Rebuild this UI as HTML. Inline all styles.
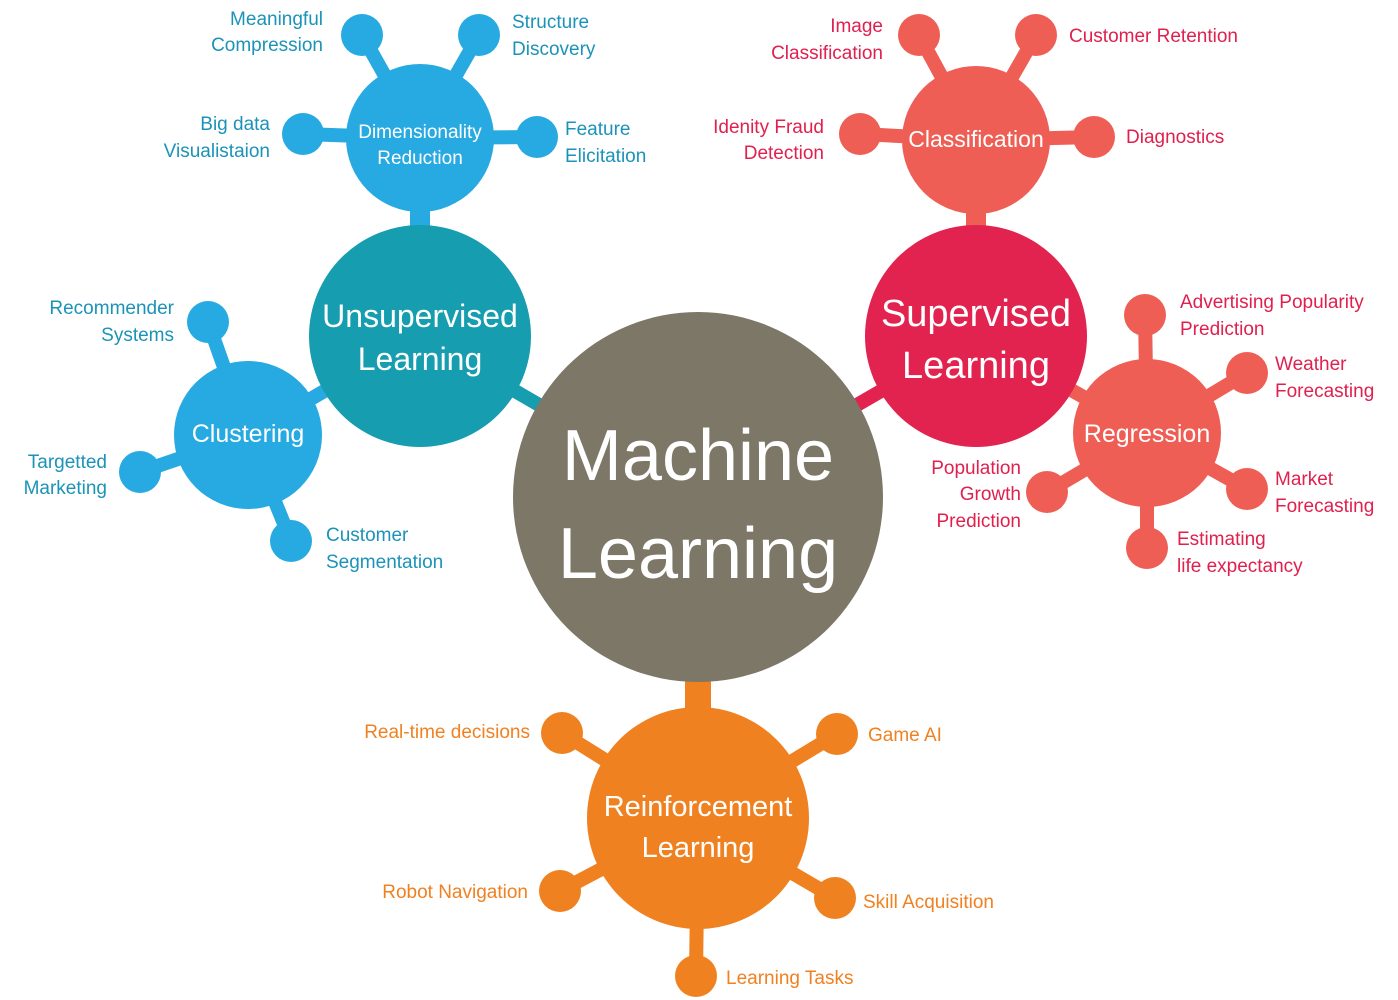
<!DOCTYPE html>
<html><head><meta charset="utf-8"><style>
html,body{margin:0;padding:0;background:#fff;}
svg{display:block;}
text{font-family:"Liberation Sans",sans-serif;}
</style></head><body>
<svg width="1398" height="1000" viewBox="0 0 1398 1000" xmlns="http://www.w3.org/2000/svg">
<g stroke-width="14" stroke-linecap="butt">
<!-- main connectors -->
<line x1="420" y1="336" x2="698" y2="497" stroke="#169daf"/>
<line x1="976" y1="336" x2="698" y2="497" stroke="#e2224f"/>
<line x1="698" y1="497" x2="698" y2="818" stroke="#f08121" stroke-width="26"/>
<line x1="420" y1="138" x2="420" y2="336" stroke="#27a9e1" stroke-width="20"/>
<line x1="248" y1="435" x2="420" y2="336" stroke="#27a9e1"/>
<line x1="976" y1="140" x2="976" y2="336" stroke="#ef5e55" stroke-width="20"/>
<line x1="1147" y1="433" x2="976" y2="336" stroke="#ef5e55"/>
<!-- dim -->
<g stroke="#27a9e1">
<line x1="420" y1="138" x2="362" y2="35"/><line x1="420" y1="138" x2="479" y2="35"/>
<line x1="420" y1="138" x2="303" y2="134"/><line x1="420" y1="138" x2="537" y2="137"/>
<line x1="248" y1="435" x2="208" y2="322"/><line x1="248" y1="435" x2="140" y2="472"/><line x1="248" y1="435" x2="291" y2="541"/>
</g>
<g stroke="#ef5e55">
<line x1="976" y1="140" x2="919" y2="35"/><line x1="976" y1="140" x2="1036" y2="35"/>
<line x1="976" y1="140" x2="860" y2="134"/><line x1="976" y1="140" x2="1094" y2="137"/>
<line x1="1147" y1="433" x2="1145" y2="315"/><line x1="1147" y1="433" x2="1247" y2="373"/>
<line x1="1147" y1="433" x2="1047" y2="492"/><line x1="1147" y1="433" x2="1247" y2="489"/>
<line x1="1147" y1="433" x2="1147" y2="548"/>
</g>
<g stroke="#f08121">
<line x1="698" y1="818" x2="562" y2="733"/><line x1="698" y1="818" x2="837" y2="734"/>
<line x1="698" y1="818" x2="560" y2="891"/><line x1="698" y1="818" x2="835" y2="898"/>
<line x1="698" y1="818" x2="696" y2="976"/>
</g>
</g>
<!-- circles -->
<g fill="#27a9e1">
<circle cx="420" cy="138" r="74"/><circle cx="248" cy="435" r="74"/>
<circle cx="362" cy="35" r="21"/><circle cx="479" cy="35" r="21"/><circle cx="303" cy="134" r="21"/><circle cx="537" cy="137" r="21"/>
<circle cx="208" cy="322" r="21"/><circle cx="140" cy="472" r="21"/><circle cx="291" cy="541" r="21"/>
</g>
<circle cx="420" cy="336" r="111" fill="#169daf"/>
<g fill="#ef5e55">
<circle cx="976" cy="140" r="74"/><circle cx="1147" cy="433" r="74"/>
<circle cx="919" cy="35" r="21"/><circle cx="1036" cy="35" r="21"/><circle cx="860" cy="134" r="21"/><circle cx="1094" cy="137" r="21"/>
<circle cx="1145" cy="315" r="21"/><circle cx="1247" cy="373" r="21"/><circle cx="1047" cy="492" r="21"/><circle cx="1247" cy="489" r="21"/><circle cx="1147" cy="548" r="21"/>
</g>
<circle cx="976" cy="336" r="111" fill="#e2224f"/>
<g fill="#f08121">
<circle cx="698" cy="818" r="111"/>
<circle cx="562" cy="733" r="21"/><circle cx="837" cy="734" r="21"/><circle cx="560" cy="891" r="21"/><circle cx="835" cy="898" r="21"/><circle cx="696" cy="976" r="21"/>
</g>
<circle cx="698" cy="497" r="185" fill="#7d7768"/>
<!-- big labels -->
<g fill="#fff" text-anchor="middle">
<text x="698" y="480" font-size="72">Machine</text>
<text x="698" y="578" font-size="72">Learning</text>
<text x="420" y="327" font-size="32">Unsupervised</text>
<text x="420" y="370" font-size="32">Learning</text>
<text x="976" y="326" font-size="38">Supervised</text>
<text x="976" y="378" font-size="38">Learning</text>
<text x="698" y="816" font-size="29">Reinforcement</text>
<text x="698" y="857" font-size="29">Learning</text>
<text x="420" y="138" font-size="19">Dimensionality</text>
<text x="420" y="164" font-size="19">Reduction</text>
<text x="248" y="442" font-size="25">Clustering</text>
<text x="976" y="147" font-size="23">Classification</text>
<text x="1147" y="442" font-size="25">Regression</text>
</g>
<!-- small labels -->
<g fill="#1b93b8" font-size="19">
<text x="323" y="25" text-anchor="end">Meaningful</text><text x="323" y="51" text-anchor="end">Compression</text>
<text x="512" y="28">Structure</text><text x="512" y="55">Discovery</text>
<text x="270" y="130" text-anchor="end">Big data</text><text x="270" y="157" text-anchor="end">Visualistaion</text>
<text x="565" y="135">Feature</text><text x="565" y="162">Elicitation</text>
<text x="174" y="314" text-anchor="end">Recommender</text><text x="174" y="341" text-anchor="end">Systems</text>
<text x="107" y="468" text-anchor="end">Targetted</text><text x="107" y="494" text-anchor="end">Marketing</text>
<text x="326" y="541">Customer</text><text x="326" y="568">Segmentation</text>
</g>
<g fill="#e0204e" font-size="19">
<text x="883" y="32" text-anchor="end">Image</text><text x="883" y="59" text-anchor="end">Classification</text>
<text x="1069" y="42">Customer Retention</text>
<text x="824" y="133" text-anchor="end">Idenity Fraud</text><text x="824" y="159" text-anchor="end">Detection</text>
<text x="1126" y="143">Diagnostics</text>
<text x="1180" y="308">Advertising Popularity</text><text x="1180" y="335">Prediction</text>
<text x="1275" y="370">Weather</text><text x="1275" y="397">Forecasting</text>
<text x="1021" y="474" text-anchor="end">Population</text><text x="1021" y="500" text-anchor="end">Growth</text><text x="1021" y="527" text-anchor="end">Prediction</text>
<text x="1275" y="485">Market</text><text x="1275" y="512">Forecasting</text>
<text x="1177" y="545">Estimating</text><text x="1177" y="572">life expectancy</text>
</g>
<g fill="#f08121" font-size="19">
<text x="530" y="738" text-anchor="end">Real-time decisions</text>
<text x="868" y="741">Game AI</text>
<text x="528" y="898" text-anchor="end">Robot Navigation</text>
<text x="863" y="908">Skill Acquisition</text>
<text x="726" y="984">Learning Tasks</text>
</g>
</svg>
</body></html>
